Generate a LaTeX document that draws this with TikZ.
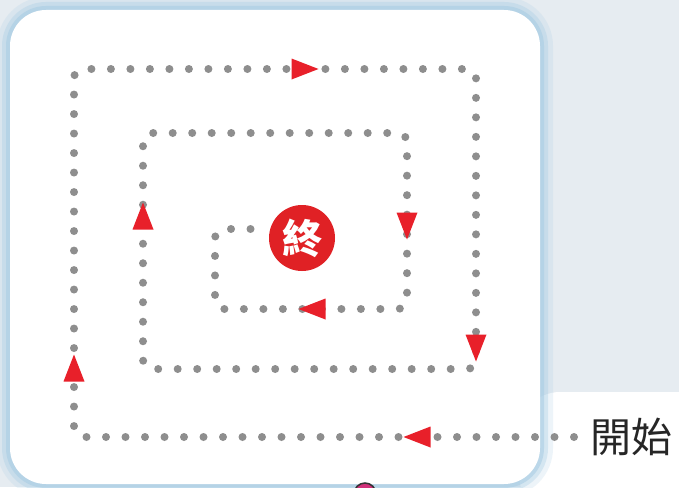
\documentclass[tikz,border=0pt]{standalone}
\usepackage{fontspec}
\newfontfamily\cjk{Noto Sans CJK TC}
\usetikzlibrary{calc}
\definecolor{bgc}{HTML}{E6ECF1}
\definecolor{glow}{HTML}{A8CCE3}
\definecolor{dotgray}{HTML}{8E8E8E}
\definecolor{arrowred}{HTML}{E8202A}
\definecolor{endred}{HTML}{E02125}
\definecolor{pinkc}{HTML}{D0307A}
\tikzset{
  dotpath/.style={draw=dotgray, line width=8pt, line cap=round, dash pattern=on 0pt off 19.5pt, rounded corners=9pt},
  tril/.pic={\fill[arrowred] (-13.5,0) -- (13.5,-10.5) -- (13.5,10.5) -- cycle;},
  trir/.pic={\fill[arrowred] (13.5,0) -- (-13.5,-10.5) -- (-13.5,10.5) -- cycle;},
  triu/.pic={\fill[arrowred] (0,-13.5) -- (-10.5,13.5) -- (10.5,13.5) -- cycle;},
  trid/.pic={\fill[arrowred] (0,13.5) -- (-10.5,-13.5) -- (10.5,-13.5) -- cycle;},
  labeltext/.style={font=\cjk\fontsize{41}{41}\selectfont, text=black!85, inner sep=0pt},
  endmark/.style={circle, fill=endred, minimum size=66pt, inner sep=0pt, text=white, font=\cjk\bfseries\fontsize{40}{40}\selectfont}
}
\begin{document}
\begin{tikzpicture}[x=1pt,y=-1pt]
\useasboundingbox (0,0) rectangle (679,487);
\fill[bgc] (0,0) rectangle (679,487);
% white area bottom right
\fill[white, rounded corners=40pt] (520,392) -- (720,392) -- (720,520) -- (520,520) -- cycle;
% card glow
\draw[glow, opacity=0.2, line width=26pt, rounded corners=36pt] (10,10) rectangle (540,484);
\draw[glow, opacity=0.35, line width=16pt, rounded corners=36pt] (10,10) rectangle (540,484);
\draw[glow, opacity=0.55, line width=8pt, rounded corners=36pt] (10,10) rectangle (540,484);
\fill[white, rounded corners=36pt] (10,10) rectangle (540,484);
% pink object partially visible
\draw[black!80, fill=pinkc, line width=1.5pt] (365,494) circle (11);
% nodes
\node[labeltext] (start) at (631,437) {開始};
\node[endmark] (end) at (302,238) {終};
% path coordinates
\coordinate (s0) at (574,437);
\coordinate (c1) at (74,437);
\coordinate (c2) at (74,69);
\coordinate (c3) at (476,69);
\coordinate (c4) at (476,369);
\coordinate (c5) at (143,369);
\coordinate (c6) at (143,133);
\coordinate (c7) at (407,133);
\coordinate (c8) at (407,309);
\coordinate (c9) at (215,309);
\coordinate (c10) at (215,229);
\coordinate (c11) at (253,229);
\draw[dotpath] (s0) -- (c1) -- (c2) -- (c3) -- (c4) -- (c5) -- (c6) -- (c7) -- (c8) -- (c9) -- (c10) -- (c11);
% arrows
\pic at (417,437) {tril};
\pic at (74,368) {triu};
\pic at (305,69) {trir};
\pic at (476,348) {trid};
\pic at (143,216) {triu};
\pic at (407,226) {trid};
\pic at (312,309) {tril};
\end{tikzpicture}
\end{document}
